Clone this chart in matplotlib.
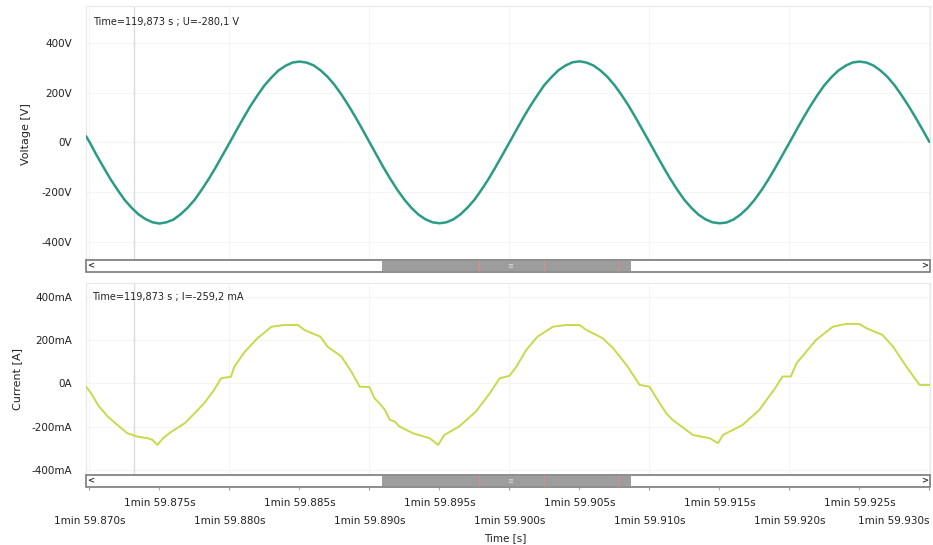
import numpy as np
import matplotlib
matplotlib.use("Agg")
import matplotlib.pyplot as plt
from matplotlib.patches import Rectangle

# ---- data -------------------------------------------------------------
T0 = 59.870  # seconds (shown as "1min 59.870s")

# mains voltage, sampled every 0.5 ms (plus one sample just before T0)
volt_t_ms = np.concatenate(([-0.25], np.arange(0, 60.5, 0.5)))
volt_v = [25,
          2, -51, -100, -148, -191, -231, -263, -290, -309, -322,
          -327, -322, -311, -290, -264, -232, -192, -149, -102, -52,
          -2, 49, 99, 147, 190, 230, 262, 290, 309, 322,
          326, 322, 311, 291, 265, 232, 193, 149, 102, 52,
          1, -50, -101, -148, -192, -231, -264, -291, -310, -322,
          -326, -322, -310, -290, -263, -231, -191, -148, -100, -50,
          0, 51, 101, 148, 191, 232, 263, 291, 310, 323,
          327, 322, 310, 290, 264, 231, 192, 149, 101, 51,
          1, -50, -100, -148, -192, -232, -264, -291, -310, -322,
          -326, -323, -311, -291, -265, -232, -193, -149, -101, -51,
          -1, 50, 100, 147, 191, 231, 263, 290, 309, 322,
          326, 322, 310, 290, 264, 231, 191, 148, 101, 52,
          2]

# load current (distorted), breakpoints in ms after T0 and mA
cur_t_ms = [-0.25, 0.1, 0.6, 1.3, 2.0, 2.7, 3.45, 4.15, 4.5, 4.85,
            5.25, 5.85, 6.8, 7.5, 8.2, 8.9, 9.4, 10.1, 10.35, 10.85,
            11.1, 12.0, 13.0, 13.9, 14.9, 15.35, 16.5, 17.0, 18.0, 18.7,
            19.3, 20.0, 20.35, 20.7, 21.1, 21.45, 21.8, 22.15, 23.1, 24.3,
            24.9, 25.35, 26.4, 27.6, 28.6, 29.3, 30.0, 30.5, 31.2, 32.0,
            33.1, 34.05, 35.0, 35.5, 36.65, 37.4, 38.35, 39.3, 40.0, 40.5,
            41.2, 41.65, 43.1, 44.3, 44.9, 45.25, 46.65, 47.85, 49.05, 49.5,
            50.1, 50.5, 51.9, 53.1, 54.05, 55.0, 55.5, 56.65, 57.4, 58.35,
            59.3, 60.0]
cur_ma = [-16, -45, -100, -154, -193, -231, -247, -254, -262, -285,
          -254, -224, -185, -139, -92, -31, 23, 30, 77, 123,
          146, 208, 261, 269, 269, 246, 215, 169, 123, 54,
          -16, -18, -69, -92, -123, -169, -177, -200, -231, -254,
          -285, -239, -200, -131, -46, 23, 34, 77, 154, 215,
          261, 269, 269, 246, 208, 162, 85, -8, -16, -69,
          -139, -169, -239, -254, -277, -239, -193, -123, -16, 31,
          31, 92, 200, 261, 274, 274, 254, 223, 169, 77,
          -8, -8]

volt_ticks = [400, 200, 0, -200, -400]
volt_tick_labels = ["400V", "200V", "0V", "-200V", "-400V"]
cur_ticks = [400, 200, 0, -200, -400]
cur_tick_labels = ["400mA", "200mA", "0A", "-200mA", "-400mA"]

time_major = [59.870, 59.880, 59.890, 59.900, 59.910, 59.920, 59.930]
time_major_labels = ["1min 59.870s", "1min 59.880s", "1min 59.890s", "1min 59.900s",
                     "1min 59.910s", "1min 59.920s", "1min 59.930s"]
time_minor = [59.875, 59.885, 59.895, 59.905, 59.915, 59.925]
time_minor_labels = ["1min 59.875s", "1min 59.885s", "1min 59.895s",
                     "1min 59.905s", "1min 59.915s", "1min 59.925s"]

cursor_t = 59.8732
volt_readout = "Time=119,873 s ; U=-280,1 V"
cur_readout = "Time=119,873 s ; I=-259,2 mA"

# ---- layout helpers ---------------------------------------------------
W, H = 933, 545
fig = plt.figure(figsize=(W / 100, H / 100), dpi=100)
fig.patch.set_facecolor("white")

LEFT, RIGHT = 86, 930


def box(top, bottom):
    return [LEFT / W, (H - bottom) / H, (RIGHT - LEFT) / W, (bottom - top) / H]


XLIM = (T0 - 0.00025, T0 + 0.06004)
TXT = "#222222"

ax_v = fig.add_axes(box(6, 259))
sb_v = fig.add_axes(box(260, 272))
ax_i = fig.add_axes(box(283, 475))
sb_i = fig.add_axes(box(475, 487))

vt = T0 + volt_t_ms / 1000.0
ct = T0 + np.asarray(cur_t_ms) / 1000.0

for ax in (ax_v, ax_i):
    ax.set_xlim(*XLIM)
    for s in ax.spines.values():
        s.set_color("#e8e8e8")
        s.set_linewidth(0.8)
    ax.set_xticks(time_major)
    ax.tick_params(axis="x", length=0, labelbottom=False)
    ax.tick_params(axis="y", length=0, pad=10, labelsize=7.5, labelcolor=TXT)
    ax.grid(True, color="#f5f5f5", lw=0.8)
    ax.set_axisbelow(True)
    ax.axvline(cursor_t, color="#dcdcdc", lw=1.0, zorder=1)

ax_v.set_ylim(-470, 550)
ax_v.set_yticks(volt_ticks, labels=volt_tick_labels)
ax_v.plot(vt, volt_v, color="#2b9b86", lw=1.8, solid_capstyle="round",
          solid_joinstyle="round", zorder=3)

ax_i.set_ylim(-424, 463)
ax_i.set_yticks(cur_ticks, labels=cur_tick_labels)
ax_i.plot(ct, cur_ma, color="#c9d94c", lw=1.4, zorder=3)

# scroll bars under each plot
for sb in (sb_v, sb_i):
    sb.set_xlim(*XLIM)
    sb.set_ylim(0, 1)
    sb.set_yticks([])
    for s in sb.spines.values():
        s.set_visible(False)
    sb.add_patch(Rectangle((0.0, 0.0), 1.0, 1.0, transform=sb.transAxes,
                           facecolor="white", edgecolor="#7a7a7a", lw=1.2,
                           clip_on=False))
    sb.add_patch(Rectangle((0.351, 0.12), 0.295, 0.76, transform=sb.transAxes,
                           facecolor="#9d9d9d", edgecolor="none"))
    for fx in (0.466, 0.543, 0.630):
        sb.plot([fx, fx], [0.12, 0.88], transform=sb.transAxes,
                color="#d98c8c", lw=0.7)
    sb.text(0.503, 0.5, "≡", transform=sb.transAxes, fontsize=5,
            color="#dddddd", ha="center", va="center")
    sb.text(0.006, 0.5, "<", transform=sb.transAxes, fontsize=6,
            fontweight="bold", color="#333333", ha="center", va="center")
    sb.text(0.994, 0.5, ">", transform=sb.transAxes, fontsize=6,
            fontweight="bold", color="#333333", ha="center", va="center")

sb_v.set_xticks([])

# time axis on the lower scroll bar: two staggered rows of labels
sb_i.set_xticks(time_major, labels=time_major_labels)
sb_i.set_xticks(time_minor, labels=time_minor_labels, minor=True)
sb_i.tick_params(axis="x", which="major", length=2, pad=19, labelsize=7.5,
                 color="#999999", labelcolor=TXT)
sb_i.tick_params(axis="x", which="minor", length=2, pad=6, labelsize=7.5,
                 color="#999999", labelcolor=TXT)
sb_i.get_xticklabels()[-1].set_horizontalalignment("right")

# cursor readouts and axis titles
fig.text(93 / W, 1 - 22 / H, volt_readout, fontsize=7, color=TXT, va="center")
fig.text(92 / W, 1 - 297 / H, cur_readout, fontsize=7, color=TXT, va="center")
fig.text(26 / W, 1 - 134 / H, "Voltage [V]", rotation=90, fontsize=8,
         color=TXT, ha="center", va="center")
fig.text(17 / W, 1 - 379 / H, "Current [A]", rotation=90, fontsize=8,
         color=TXT, ha="center", va="center")
fig.text(505 / W, 1 - 538 / H, "Time [s]", fontsize=7.5, color=TXT,
         ha="center", va="center")

fig.savefig("out.png", dpi=100, facecolor="white")
